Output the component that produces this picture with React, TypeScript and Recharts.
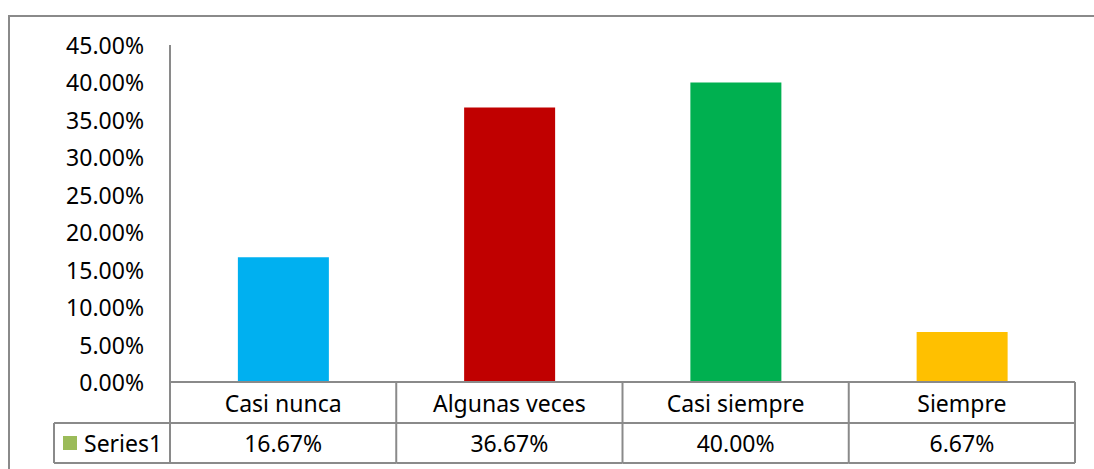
import React from 'react';
import { BarChart, Bar, XAxis, YAxis, Cell } from 'recharts';

// Survey answers and their share of responses (percent)
const categories = ['Casi nunca', 'Algunas veces', 'Casi siempre', 'Siempre'];
const values = [16.67, 36.67, 40.0, 6.67];
const barColors = ['#00B0F0', '#C00000', '#00B050', '#FFC000'];
const yTicks = [0, 5, 10, 15, 20, 25, 30, 35, 40, 45];
const seriesName = 'Series1';
const seriesKeyColor = '#9BBB59';

const data = categories.map((name, i) => ({ name, value: values[i] }));

// Layout of the plot and of the data table underneath it
const W = 1094;
const H = 469;
const PLOT_LEFT = 170;
const PLOT_RIGHT = 1075;
const PLOT_TOP = 45;
const PLOT_BOTTOM = 382;
const ROW1_BOTTOM = 423;
const ROW2_BOTTOM = 463;
const LEGEND_LEFT = 54;

const LINE = '#8a8a8a';
const LINE_W = 2;
const FONT = '"Noto Sans", "Open Sans", sans-serif';
const FONT_SIZE = 23;
const TEXT = '#000000';

const fmt = (v: number) => `${v.toFixed(2)}%`;

const TableTick = (props: any) => {
  const { x, payload, index } = props;
  const band = (PLOT_RIGHT - PLOT_LEFT) / categories.length;
  const left = x - band / 2;
  const right = x + band / 2;
  const i = categories.indexOf(payload.value);
  const row1Mid = (PLOT_BOTTOM + ROW1_BOTTOM) / 2;
  const row2Mid = (ROW1_BOTTOM + ROW2_BOTTOM) / 2;
  return (
    <g>
      {index === 0 && (
        <g>
          <line x1={left} y1={PLOT_BOTTOM} x2={left} y2={ROW2_BOTTOM} stroke={LINE} strokeWidth={LINE_W} />
          <line x1={LEGEND_LEFT} y1={ROW1_BOTTOM} x2={left} y2={ROW1_BOTTOM} stroke={LINE} strokeWidth={LINE_W} />
          <line x1={LEGEND_LEFT} y1={ROW2_BOTTOM} x2={left} y2={ROW2_BOTTOM} stroke={LINE} strokeWidth={LINE_W} />
          <line x1={LEGEND_LEFT} y1={ROW1_BOTTOM} x2={LEGEND_LEFT} y2={ROW2_BOTTOM} stroke={LINE} strokeWidth={LINE_W} />
          <rect x={63} y={row2Mid - 7} width={14} height={14} fill={seriesKeyColor} />
          <text x={84} y={row2Mid} dominantBaseline="central" fontFamily={FONT} fontSize={FONT_SIZE} fill={TEXT}>
            {seriesName}
          </text>
        </g>
      )}
      <line x1={right} y1={PLOT_BOTTOM} x2={right} y2={ROW2_BOTTOM} stroke={LINE} strokeWidth={LINE_W} />
      <line x1={left} y1={ROW1_BOTTOM} x2={right} y2={ROW1_BOTTOM} stroke={LINE} strokeWidth={LINE_W} />
      <line x1={left} y1={ROW2_BOTTOM} x2={right} y2={ROW2_BOTTOM} stroke={LINE} strokeWidth={LINE_W} />
      <text x={x} y={row1Mid} textAnchor="middle" dominantBaseline="central" fontFamily={FONT} fontSize={FONT_SIZE} fill={TEXT}>
        {payload.value}
      </text>
      <text x={x} y={row2Mid} textAnchor="middle" dominantBaseline="central" fontFamily={FONT} fontSize={FONT_SIZE} fill={TEXT}>
        {i >= 0 ? fmt(values[i]) : ''}
      </text>
    </g>
  );
};

const ValueTick = (props: any) => {
  const { y, payload } = props;
  return (
    <text x={PLOT_LEFT - 26} y={y} textAnchor="end" dominantBaseline="central" fontFamily={FONT} fontSize={FONT_SIZE} fill={TEXT}>
      {fmt(payload.value)}
    </text>
  );
};

export default function App() {
  return (
    <div style={{ position: 'absolute', left: 0, top: 0, width: W, height: H, overflow: 'hidden', background: '#ffffff' }}>
      <div
        style={{
          position: 'absolute',
          left: 8,
          top: 15,
          width: W + 50,
          height: H + 50,
          borderLeft: `2px solid ${LINE}`,
          borderTop: `2px solid ${LINE}`,
          boxSizing: 'border-box',
        }}
      />
      <div style={{ position: 'absolute', left: 0, top: 0 }}>
        <BarChart
          width={W}
          height={H}
          data={data}
          margin={{ top: PLOT_TOP, right: W - PLOT_RIGHT, bottom: 0, left: 0 }}
          barCategoryGap="30%"
        >
          <XAxis
            dataKey="name"
            height={H - PLOT_BOTTOM}
            interval={0}
            tickLine={false}
            tickSize={0}
            axisLine={{ stroke: LINE, strokeWidth: LINE_W }}
            tick={<TableTick />}
          />
          <YAxis
            width={PLOT_LEFT}
            domain={[0, 45]}
            ticks={yTicks}
            interval={0}
            tickLine={false}
            tickSize={0}
            axisLine={{ stroke: LINE, strokeWidth: LINE_W }}
            tick={<ValueTick />}
          />
          <Bar dataKey="value" isAnimationActive={false}>
            {data.map((d, i) => (
              <Cell key={d.name} fill={barColors[i]} />
            ))}
          </Bar>
        </BarChart>
      </div>
    </div>
  );
}
